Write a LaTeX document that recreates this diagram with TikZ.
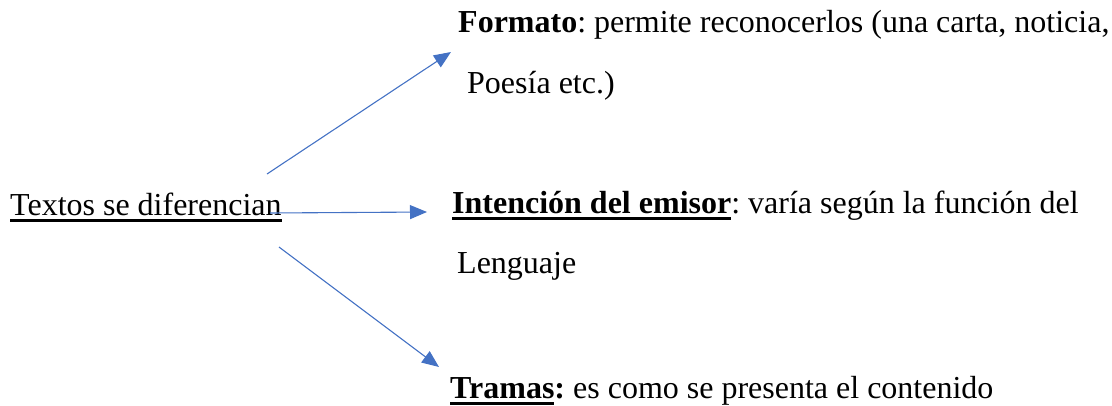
\documentclass[tikz,border=0pt]{standalone}
\usepackage{fontspec}
\setmainfont{Liberation Serif}
\usetikzlibrary{arrows.meta}
\definecolor{flecha}{HTML}{4472C4}
\newcommand{\raya}[1]{\setbox0\hbox{#1}\rlap{\rule[-6.5pt]{\wd0}{2.5pt}}\box0}

\begin{document}
\begin{tikzpicture}[x=1pt,y=-1pt,
        txt/.style={anchor=base west,inner sep=0pt,font=\fontsize{32}{38}\selectfont\frenchspacing},
        rama/.style={-{Triangle[length=17pt,width=14pt]},flecha,line width=1.1pt}]
        \useasboundingbox(0,0)rectangle(1112,405);

        \node[txt](src)at(10,215){\raya{Textos se diferencian}};
        \node[txt](fmt)at(458,32){\textbf{Formato}: permite reconocerlos (una carta, noticia,};
        \node[txt](fmtb)at(467,93){Poesía etc.)};
        \node[txt](int)at(452,213){\raya{\textbf{Intención del emisor}}: varía según la función del};
        \node[txt](intb)at(457,273){Lenguaje};
        \node[txt](tra)at(450,398){\raya{\textbf{Tramas}}\textbf{:} es como se presenta el contenido};

        \coordinate(s1)at(267,174);
        \coordinate(s2)at(270,213);
        \coordinate(s3)at(279,247);
        \coordinate(t1)at(451,52);
        \coordinate(t2)at(427,212);
        \coordinate(t3)at(439,367);
        \draw[rama](s1)--(t1);
        \draw[rama](s2)--(t2);
        \draw[rama](s3)--(t3);
    \end{tikzpicture}
\end{document}
